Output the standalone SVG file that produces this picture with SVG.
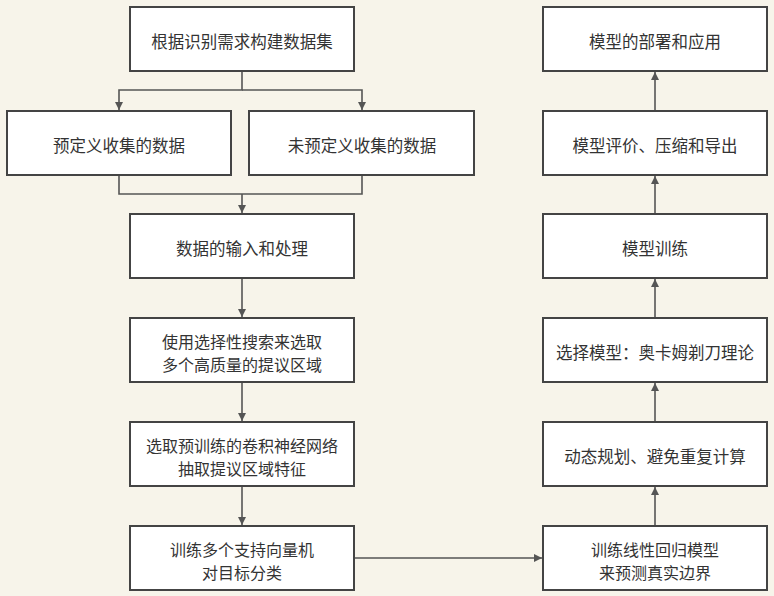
<svg xmlns="http://www.w3.org/2000/svg" width="774" height="596" viewBox="0 0 774 596">
<style>
.bg{fill:#f7f4ea}
.box{fill:#ffffff;stroke:#444444;stroke-width:2}
.t{font-family:"Noto Sans CJK SC","Liberation Sans",sans-serif;font-size:16.5px;fill:#333333;text-anchor:middle;dominant-baseline:central}
.t2{font-family:"Noto Sans CJK SC","Liberation Sans",sans-serif;font-size:16px;fill:#333333;text-anchor:middle;dominant-baseline:central}
.c{fill:none;stroke:#555555;stroke-width:1.6}
</style>
<defs>
<marker id="ah" viewBox="0 0 10 10" refX="10" refY="5" markerWidth="8" markerHeight="8" markerUnits="userSpaceOnUse" orient="auto">
<path d="M0,0 L10,5 L0,10 Z" fill="#555555"/>
</marker>
</defs>
<rect class="bg" x="0" y="0" width="774" height="596"/>
<g id="connectors">
<path class="c" d="M242,71 V90 H119 V110" marker-end="url(#ah)"/>
<path class="c" d="M242,90 H362 V110" marker-end="url(#ah)"/>
<path class="c" d="M119,175 V194 H362 V175"/>
<path class="c" d="M242,194 V213" marker-end="url(#ah)"/>
<path class="c" d="M242,278 V317" marker-end="url(#ah)"/>
<path class="c" d="M242,382 V421" marker-end="url(#ah)"/>
<path class="c" d="M242,486 V525" marker-end="url(#ah)"/>
<path class="c" d="M354,558 H542" marker-end="url(#ah)"/>
<path class="c" d="M655,526 V487" marker-end="url(#ah)"/>
<path class="c" d="M655,422 V383" marker-end="url(#ah)"/>
<path class="c" d="M655,318 V279" marker-end="url(#ah)"/>
<path class="c" d="M655,214 V176" marker-end="url(#ah)"/>
<path class="c" d="M655,111 V72" marker-end="url(#ah)"/>
</g>
<g id="n1"><rect class="box" x="130" y="7" width="224" height="64"/><text class="t" x="242" y="41">根据识别需求构建数据集</text></g>
<g id="n2"><rect class="box" x="7" y="111" width="224" height="64"/><text class="t" x="119" y="145">预定义收集的数据</text></g>
<g id="n3"><rect class="box" x="249" y="111" width="225" height="64"/><text class="t" x="362" y="145">未预定义收集的数据</text></g>
<g id="n4"><rect class="box" x="130" y="214" width="224" height="64"/><text class="t" x="242" y="248">数据的输入和处理</text></g>
<g id="n5"><rect class="box" x="130" y="318" width="224" height="64"/><text class="t2" x="242" y="340.5">使用选择性搜索来选取<tspan x="242" dy="23">多个高质量的提议区域</tspan></text></g>
<g id="n6"><rect class="box" x="130" y="422" width="224" height="64"/><text class="t2" x="242" y="444.5">选取预训练的卷积神经网络<tspan x="242" dy="23">抽取提议区域特征</tspan></text></g>
<g id="n7"><rect class="box" x="130" y="526" width="224" height="64"/><text class="t2" x="242" y="548.5">训练多个支持向量机<tspan x="242" dy="23">对目标分类</tspan></text></g>
<g id="n8"><rect class="box" x="543" y="7" width="224" height="64"/><text class="t" x="655" y="41">模型的部署和应用</text></g>
<g id="n9"><rect class="box" x="543" y="111" width="224" height="64"/><text class="t" x="655" y="145">模型评价、压缩和导出</text></g>
<g id="n10"><rect class="box" x="543" y="214" width="224" height="64"/><text class="t" x="655" y="248">模型训练</text></g>
<g id="n11"><rect class="box" x="543" y="318" width="224" height="64"/><text class="t" x="655" y="352">选择模型：奥卡姆剃刀理论</text></g>
<g id="n12"><rect class="box" x="543" y="422" width="224" height="64"/><text class="t" x="655" y="456">动态规划、避免重复计算</text></g>
<g id="n13"><rect class="box" x="543" y="526" width="224" height="64"/><text class="t2" x="655" y="548.5">训练线性回归模型<tspan x="655" dy="23">来预测真实边界</tspan></text></g>
</svg>
